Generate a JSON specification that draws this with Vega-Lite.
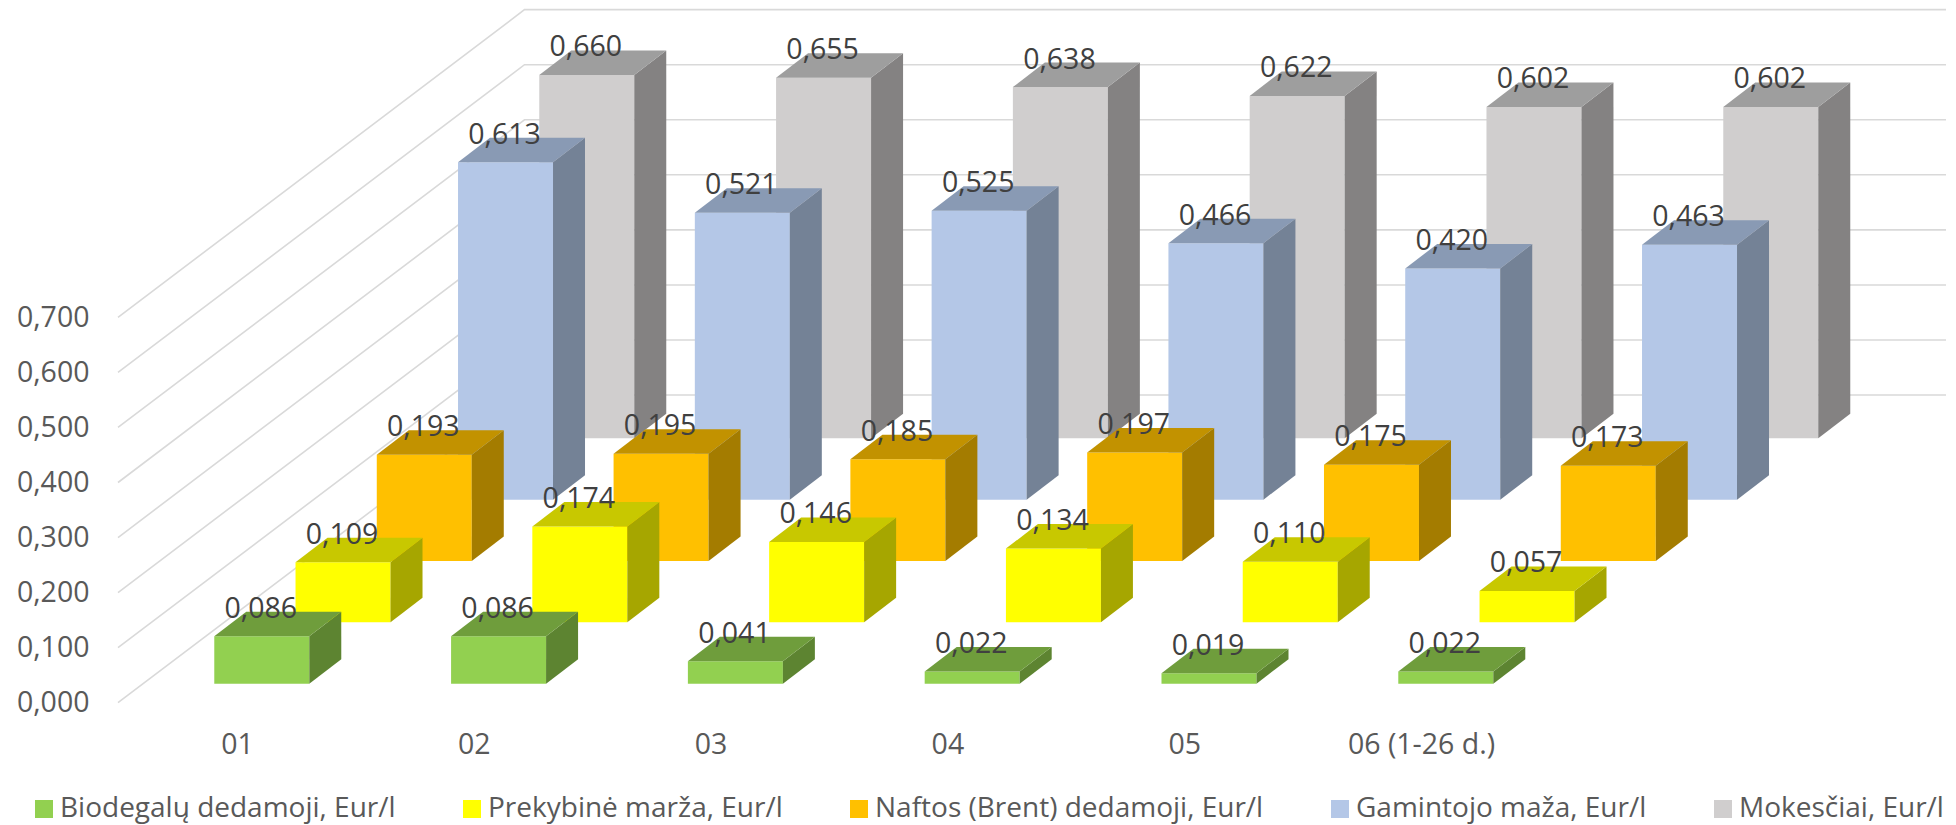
{
"$schema":"https://vega.github.io/schema/vega-lite/v6.json",
"autosize":"none","width":1856,"height":725,
"padding":{"left":100,"top":0,"right":0,"bottom":100},
"background":"white",
"config":{"view":{"stroke":null},"font":"Open Sans"},
"resolve":{"axis":{"x":"independent","y":"independent"}},
"datasets":{
"bars":[
{"month":"01","series":"Mokesčiai, Eur/l","value":0.660},{"month":"02","series":"Mokesčiai, Eur/l","value":0.655},{"month":"03","series":"Mokesčiai, Eur/l","value":0.638},{"month":"04","series":"Mokesčiai, Eur/l","value":0.622},{"month":"05","series":"Mokesčiai, Eur/l","value":0.602},{"month":"06 (1-26 d.)","series":"Mokesčiai, Eur/l","value":0.602},
{"month":"01","series":"Gamintojo maža, Eur/l","value":0.613},{"month":"02","series":"Gamintojo maža, Eur/l","value":0.521},{"month":"03","series":"Gamintojo maža, Eur/l","value":0.525},{"month":"04","series":"Gamintojo maža, Eur/l","value":0.466},{"month":"05","series":"Gamintojo maža, Eur/l","value":0.420},{"month":"06 (1-26 d.)","series":"Gamintojo maža, Eur/l","value":0.463},
{"month":"01","series":"Naftos (Brent) dedamoji, Eur/l","value":0.193},{"month":"02","series":"Naftos (Brent) dedamoji, Eur/l","value":0.195},{"month":"03","series":"Naftos (Brent) dedamoji, Eur/l","value":0.185},{"month":"04","series":"Naftos (Brent) dedamoji, Eur/l","value":0.197},{"month":"05","series":"Naftos (Brent) dedamoji, Eur/l","value":0.175},{"month":"06 (1-26 d.)","series":"Naftos (Brent) dedamoji, Eur/l","value":0.173},
{"month":"01","series":"Prekybinė marža, Eur/l","value":0.109},{"month":"02","series":"Prekybinė marža, Eur/l","value":0.174},{"month":"03","series":"Prekybinė marža, Eur/l","value":0.146},{"month":"04","series":"Prekybinė marža, Eur/l","value":0.134},{"month":"05","series":"Prekybinė marža, Eur/l","value":0.110},{"month":"06 (1-26 d.)","series":"Prekybinė marža, Eur/l","value":0.057},
{"month":"01","series":"Biodegalų dedamoji, Eur/l","value":0.086},{"month":"02","series":"Biodegalų dedamoji, Eur/l","value":0.086},{"month":"03","series":"Biodegalų dedamoji, Eur/l","value":0.041},{"month":"04","series":"Biodegalų dedamoji, Eur/l","value":0.022},{"month":"05","series":"Biodegalų dedamoji, Eur/l","value":0.019},{"month":"06 (1-26 d.)","series":"Biodegalų dedamoji, Eur/l","value":0.022}
],
"ticks":[{"tick":0},{"tick":0.1},{"tick":0.2},{"tick":0.3},{"tick":0.4},{"tick":0.5},{"tick":0.6},{"tick":0.7}]
},
"layer":[
{"data":{"name":"ticks"},
"transform":[
{"calculate":"[0,1,2]","as":"k"},{"flatten":["k"]},
{"calculate":"datum.k==0?-0.5025:(datum.k==1?1.2141:7.2171)","as":"gx"},
{"calculate":"datum.k==0?datum.tick:datum.tick+0.5589","as":"gy"}],
"mark":{"type":"line","stroke":"#D9D9D9","strokeWidth":1.6},
"encoding":{
"x":{"field":"gx","type":"quantitative","scale":{"domain":[-0.5785,7.2593],"nice":false,"zero":false},
"axis":{"values":[0,1,2,3,4,5],"title":null,"grid":false,"domain":false,"ticks":false,"labelFontSize":28.5,"labelColor":"#595959","labelPadding":19,"labelBaseline":"middle","labelFlush":false,"labelOverlap":false,
"labelExpr":"['01','02','03','04','05','06 (1-26 d.)'][datum.value]"}},
"y":{"field":"gy","type":"quantitative","scale":{"domain":[-0.0405,1.27647],"nice":false,"zero":false},
"axis":{"values":[0,0.1,0.2,0.3,0.4,0.5,0.6,0.7],"title":null,"grid":false,"domain":false,"ticks":false,"labelFontSize":28.5,"labelColor":"#595959","labelPadding":11,"labelFlush":false,"labelOverlap":false,
"labelExpr":"replace(format(datum.value,'.3f'),'.',',')"}},
"detail":{"field":"tick"}}},
{"data":{"name":"bars"},
"transform":[
{"calculate":"indexof(['01','02','03','04','05','06 (1-26 d.)'],datum.month)","as":"m"},
{"calculate":"indexof(['Biodegalų dedamoji, Eur/l','Prekybinė marža, Eur/l','Naftos (Brent) dedamoji, Eur/l','Gamintojo maža, Eur/l','Mokesčiai, Eur/l'],datum.series)","as":"s"},
{"calculate":"datum.m-0.0959+datum.s*0.3431","as":"L"},
{"calculate":"datum.L+0.4012","as":"R"},
{"calculate":"0.0345+datum.s*0.11144","as":"B"},
{"calculate":"datum.B+datum.value","as":"T"},
{"calculate":"datum.month+'|'+datum.series","as":"bar"},
{"calculate":"[0,1,2,3,4,5,6,7]","as":"k"},{"flatten":["k"]},
{"calculate":"datum.k==0?datum.L:datum.k==1?datum.R:datum.k==2?datum.R:datum.k==3?datum.R+0.1351:datum.k==4?datum.L:datum.k==5?datum.L+0.1351:datum.k==6?datum.R:datum.R+0.1351","as":"px"},
{"calculate":"datum.k<=2||datum.k==4?datum.T:datum.T+0.0445","as":"yt"},
{"calculate":"datum.k<=2?datum.B:datum.k==3?datum.B+0.0445:datum.k==7?datum.T+0.0445:datum.T","as":"yb"},
{"calculate":"datum.k<2?datum.series:datum.k<4?datum.series+' side':datum.series+' top'","as":"face"}],
"mark":{"type":"area","line":false,"interpolate":"linear"},
"encoding":{
"x":{"field":"px","type":"quantitative","scale":{"domain":[-0.5785,7.2593],"nice":false,"zero":false},"axis":null},
"y":{"field":"yt","type":"quantitative","stack":null,"scale":{"domain":[-0.0405,1.27647],"nice":false,"zero":false},"axis":null},
"y2":{"field":"yb"},
"detail":{"field":"bar"},
"fill":{"field":"face","type":"nominal","scale":{
"domain":["Biodegalų dedamoji, Eur/l","Biodegalų dedamoji, Eur/l side","Biodegalų dedamoji, Eur/l top","Prekybinė marža, Eur/l","Prekybinė marža, Eur/l side","Prekybinė marža, Eur/l top","Naftos (Brent) dedamoji, Eur/l","Naftos (Brent) dedamoji, Eur/l side","Naftos (Brent) dedamoji, Eur/l top","Gamintojo maža, Eur/l","Gamintojo maža, Eur/l side","Gamintojo maža, Eur/l top","Mokesčiai, Eur/l","Mokesčiai, Eur/l side","Mokesčiai, Eur/l top"],
"range":["#92D050","#5D8431","#6F9D3C","#FFFF00","#A6A600","#C8C800","#FFC000","#A47C00","#C29200","#B4C7E7","#748296","#899AB4","#D0CECE","#848282","#9E9E9E"]},
"legend":{"values":["Biodegalų dedamoji, Eur/l","Prekybinė marža, Eur/l","Naftos (Brent) dedamoji, Eur/l","Gamintojo maža, Eur/l","Mokesčiai, Eur/l"],
"title":null,"orient":"none","legendX":-70,"legendY":795,"direction":"horizontal","columns":5,"gridAlign":"none","columnPadding":62,"symbolType":"square","symbolSize":324,"symbolStrokeWidth":0,"labelOffset":2,"labelFontSize":28,"labelColor":"#595959","labelLimit":600,"padding":0}}}},
{"data":{"name":"bars"},
"transform":[
{"calculate":"indexof(['01','02','03','04','05','06 (1-26 d.)'],datum.month)","as":"m"},
{"calculate":"indexof(['Biodegalų dedamoji, Eur/l','Prekybinė marža, Eur/l','Naftos (Brent) dedamoji, Eur/l','Gamintojo maža, Eur/l','Mokesčiai, Eur/l'],datum.series)","as":"s"},
{"calculate":"datum.m-0.0959+datum.s*0.3431+0.1966","as":"cx"},
{"calculate":"0.0345+datum.s*0.11144+datum.value+0.050","as":"cy"},
{"calculate":"replace(format(datum.value,'.3f'),'.',',')","as":"label"}],
"mark":{"type":"text","fontSize":28.5,"color":"#404040","baseline":"middle","align":"center"},
"encoding":{
"x":{"field":"cx","type":"quantitative","scale":{"domain":[-0.5785,7.2593],"nice":false,"zero":false},"axis":null},
"y":{"field":"cy","type":"quantitative","scale":{"domain":[-0.0405,1.27647],"nice":false,"zero":false},"axis":null},
"text":{"field":"label"}}}
]
}
